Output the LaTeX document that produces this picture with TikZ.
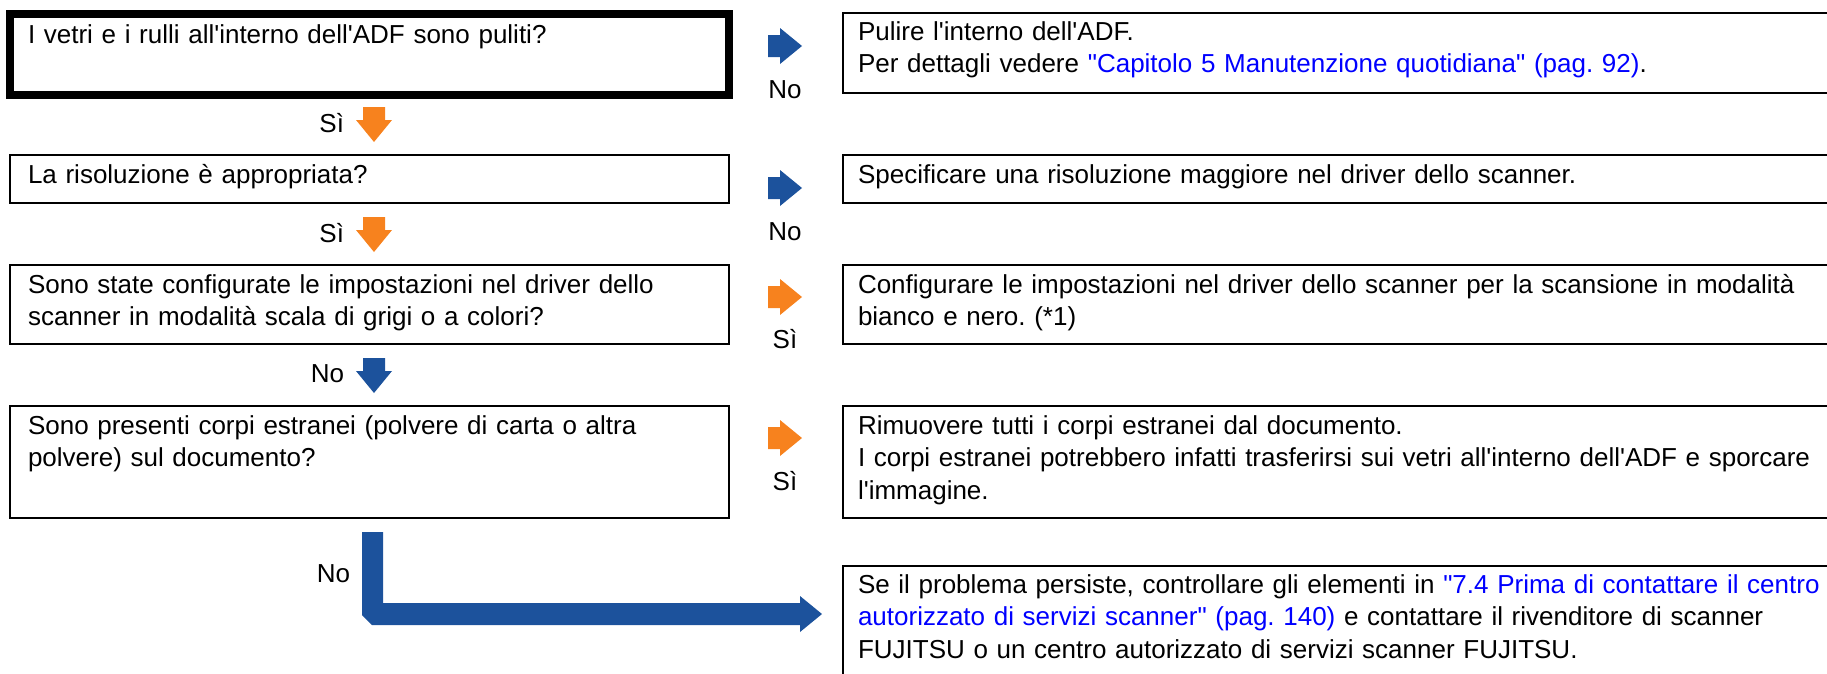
\documentclass[tikz,border=0pt]{standalone}
\usepackage{fontspec}
\setmainfont{Liberation Sans}[Ligatures=TeXOff]
\frenchspacing
\definecolor{arrblue}{RGB}{28,82,156}
\definecolor{arrorange}{RGB}{247,130,30}
\definecolor{linkblue}{RGB}{0,0,255}
\newcommand{\lnk}[1]{\textcolor{linkblue}{#1}}
\newcommand{\rarrow}[2]{\fill[#1] (#2) ++(0,-11) -- ++(12,0) -- ++(0,-7) -- ++(22,18) -- ++(-22,18) -- ++(0,-7) -- ++(-12,0) -- cycle;}
\newcommand{\darrow}[2]{\fill[#1] (#2) ++(-11,0) -- ++(0,13) -- ++(-7,0) -- ++(18,22) -- ++(18,-22) -- ++(-7,0) -- ++(0,-13) -- cycle;}
\tikzset{
  box/.style={draw=black, line width=2.2pt, rectangle, inner sep=0pt, outer sep=0pt, anchor=north west},
  thickbox/.style={box, line width=8.5pt},
  txt/.style={inner sep=0pt, outer sep=0pt, anchor=base west, text width=1000pt, align=left,
    font=\fontsize{26pt}{32.5pt}\selectfont\frenchspacing},
  lbl/.style={inner sep=0pt, outer sep=0pt, font=\fontsize{26pt}{32.5pt}\selectfont},
}
\begin{document}
\begin{tikzpicture}[x=1pt,y=-1pt]
\useasboundingbox (0,0) rectangle (1827,673);
\clip (0,0) rectangle (1827,673);

% question boxes
\node[thickbox, minimum width=719pt, minimum height=81pt] (q1) at (10,14) {};
\node[box, minimum width=719pt, minimum height=48pt] (q2) at (10,155) {};
\node[box, minimum width=719pt, minimum height=79pt] (q3) at (10,265) {};
\node[box, minimum width=719pt, minimum height=112pt] (q4) at (10,406) {};

% answer boxes
\node[box, minimum width=1000pt, minimum height=80pt] (a1) at (843,13) {};
\node[box, minimum width=1000pt, minimum height=48pt] (a2) at (843,155) {};
\node[box, minimum width=1000pt, minimum height=79pt] (a3) at (843,265) {};
\node[box, minimum width=1000pt, minimum height=112pt] (a4) at (843,406) {};
\node[box, minimum width=1000pt, minimum height=140pt] (a5) at (843,566) {};

% texts
\node[txt] (q1t) at ([shift={(18pt,-29pt)}]q1.north west) {I vetri e i rulli all'interno dell'ADF sono puliti?};
\node[txt] (q2t) at ([shift={(18pt,-28pt)}]q2.north west) {La risoluzione è appropriata?};
\node[txt] (q3t) at ([shift={(18pt,-28pt)}]q3.north west) {Sono state configurate le impostazioni nel driver dello\\scanner in modalità scala di grigi o a colori?};
\node[txt] (q4t) at ([shift={(18pt,-28pt)}]q4.north west) {Sono presenti corpi estranei (polvere di carta o altra\\polvere) sul documento?};

\node[txt] (a1t) at ([shift={(15pt,-27pt)}]a1.north west) {Pulire l'interno dell'ADF.\\Per dettagli vedere \lnk{"Capitolo 5 Manutenzione quotidiana" (pag. 92)}.};
\node[txt] (a2t) at ([shift={(15pt,-28pt)}]a2.north west) {Specificare una risoluzione maggiore nel driver dello scanner.};
\node[txt] (a3t) at ([shift={(15pt,-28pt)}]a3.north west) {Configurare le impostazioni nel driver dello scanner per la scansione in modalità\\bianco e nero. (*1)};
\node[txt] (a4t) at ([shift={(15pt,-28pt)}]a4.north west) {Rimuovere tutti i corpi estranei dal documento.\\I corpi estranei potrebbero infatti trasferirsi sui vetri all'interno dell'ADF e sporcare\\l'immagine.};
\node[txt] (a5t) at ([shift={(15pt,-27pt)}]a5.north west) {Se il problema persiste, controllare gli elementi in \lnk{"7.4 Prima di contattare il centro}\\\lnk{autorizzato di servizi scanner" (pag. 140)} e contattare il rivenditore di scanner\\FUJITSU o un centro autorizzato di servizi scanner FUJITSU.};

% horizontal arrows
\coordinate (r1) at (768,46);
\coordinate (r2) at (768,188);
\coordinate (r3) at (768,297);
\coordinate (r4) at (768,438);
\rarrow{arrblue}{r1}
\rarrow{arrblue}{r2}
\rarrow{arrorange}{r3}
\rarrow{arrorange}{r4}
\node[lbl, anchor=base] (n1) at (785,98) {No};
\node[lbl, anchor=base] (n2) at (785,240) {No};
\node[lbl, anchor=base] (s3) at (785,348) {Sì};
\node[lbl, anchor=base] (s4) at (785,490) {Sì};

% down arrows
\coordinate (d1) at (374,107);
\coordinate (d2) at (374,217);
\coordinate (d3) at (374,358);
\darrow{arrorange}{d1}
\darrow{arrorange}{d2}
\darrow{arrblue}{d3}
\node[lbl, anchor=base east] (ds1) at (344,132) {Sì};
\node[lbl, anchor=base east] (ds2) at (344,242) {Sì};
\node[lbl, anchor=base east] (dn3) at (344,382) {No};

% L arrow to final box
\coordinate (l0) at (362,532);
\fill[arrblue] (l0) -- ++(21,0) -- ++(0,71) -- ++(417,0) -- ++(0,-7) -- ++(22,18) -- ++(-22,18) -- ++(0,-7) -- ++(-428,0) -- ++(-10,-10) -- cycle;
\node[lbl, anchor=base east] (ln) at (350,582) {No};
\end{tikzpicture}
\end{document}
